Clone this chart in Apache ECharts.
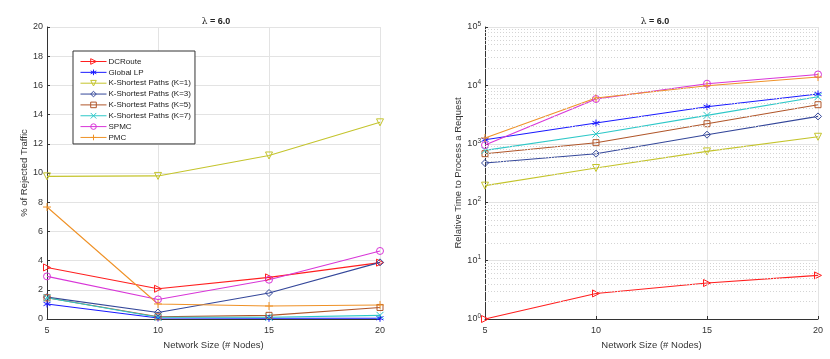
<!DOCTYPE html>
<html>
<head>
<meta charset="utf-8">
<script src="https://cdn.jsdelivr.net/npm/echarts@6/dist/echarts.min.js"></script>
<style>
  html, body { margin: 0; padding: 0; background: #fff; }
  #chart { width: 830px; height: 359px; }
</style>
</head>
<body>
<div id="chart"></div>
<script>
// network sizes (x axis)
var sizes = [5, 10, 15, 20];
var names = ['DCRoute', 'Global LP', 'K-Shortest Paths (K=1)', 'K-Shortest Paths (K=3)',
  'K-Shortest Paths (K=5)', 'K-Shortest Paths (K=7)', 'SPMC', 'PMC'];

// % of rejected traffic (left plot)
var rejDCRoute = [3.53, 2.07, 2.85, 3.86];
var rejGlobalLP = [1.03, 0.07, 0.05, 0.05];
var rejK1 = [9.77, 9.8, 11.2, 13.47];
var rejK3 = [1.5, 0.45, 1.78, 3.88];
var rejK5 = [1.45, 0.15, 0.25, 0.79];
var rejK7 = [1.45, 0.12, 0.12, 0.25];
var rejSPMC = [2.92, 1.34, 2.69, 4.66];
var rejPMC = [7.67, 1.03, 0.89, 0.96];

// relative time to process a request (right plot, log)
var timeDCRoute = [1, 2.74, 4.13, 5.58];
var timeGlobalLP = [1175, 2270, 4316, 7130];
var timeK1 = [192, 385, 741, 1320];
var timeK3 = [469, 677, 1432, 2944];
var timeK5 = [677, 1045, 2208, 4670];
var timeK7 = [771, 1472, 3063, 6400];
var timeSPMC = [953, 5850, 10700, 15400];
var timePMC = [1257, 6080, 9890, 13900];

var rejData = [rejDCRoute, rejGlobalLP, rejK1, rejK3, rejK5, rejK7, rejSPMC, rejPMC];
var timeData = [timeDCRoute, timeGlobalLP, timeK1, timeK3, timeK5, timeK7, timeSPMC, timePMC];

var colors = ['#ff1f1f', '#1a1aff', '#c4c42c', '#34479a', '#b0562a', '#2ec8c8', '#d836d8', '#ef9228'];
var symbols = ['triangle', 'path://M5,0L5,10M0.7,2.5L9.3,7.5M0.7,7.5L9.3,2.5', 'triangle', 'diamond', 'rect',
  'path://M0,0L10,10M0,10L10,0', 'circle', 'path://M5,0L5,10M0,5L10,5'];
var rotates = [-90, 0, 180, 0, 0, 0, 0, 0];
var sizesSym = [7, 7, 7, 7, 6, 7, 7, 8];

// minor grid lines of the log axis
var minorTicks = [];
for (var d = 0; d < 5; d++) {
  for (var m = 2; m < 10; m++) minorTicks.push(m * Math.pow(10, d));
}

var font = 'Liberation Sans';
var axisTxt = { color: '#333', fontSize: 9, fontFamily: font };

function makeSeries(name, i, data, idx) {
  return {
    name: name,
    type: 'line',
    xAxisIndex: idx,
    yAxisIndex: idx,
    data: sizes.map(function (x, k) { return [x, data[k]]; }),
    symbol: symbols[i],
    symbolSize: sizesSym[i],
    symbolRotate: rotates[i],
    lineStyle: { color: colors[i], width: 1.1 },
    itemStyle: { color: 'transparent', borderColor: colors[i], borderWidth: 1 },
    emphasis: { disabled: true },
    animation: false
  };
}

var series = [{
  type: 'line',
  xAxisIndex: 1,
  yAxisIndex: 1,
  data: [],
  silent: true,
  markLine: {
    silent: true,
    symbol: ['none', 'none'],
    label: { show: false },
    lineStyle: { type: [1, 2], color: '#d4d4d4', width: 1 },
    data: minorTicks.map(function (v) { return { yAxis: v }; })
  },
  animation: false
}];
names.forEach(function (n, i) {
  series.push(makeSeries(n, i, rejData[i], 0));
});
names.forEach(function (n, i) {
  series.push(makeSeries(n, i, timeData[i], 1));
});

function xAxisCfg(idx) {
  return {
    type: 'value',
    gridIndex: idx,
    min: 5, max: 20, interval: 5,
    name: 'Network Size (# Nodes)',
    nameLocation: 'middle',
    nameGap: 17,
    nameTextStyle: { color: '#333', fontSize: 9.5, fontFamily: font },
    axisLine: { lineStyle: { color: '#333', width: 1 } },
    axisTick: { inside: true, length: 3, lineStyle: { color: '#333' } },
    axisLabel: Object.assign({ margin: 7 }, axisTxt),
    splitLine: { lineStyle: { color: '#e3e3e3', width: 1 } }
  };
}

var titleStyle = {
  fontSize: 9, fontWeight: 'bold', color: '#222', fontFamily: font,
  rich: { l: { fontSize: 9, fontWeight: 'normal', fontFamily: 'DejaVu Serif', color: '#222' } }
};

var option = {
  backgroundColor: '#fff',
  textStyle: { fontFamily: font },
  title: [
    { text: '{l|λ} = 6.0', left: 211, top: 12, textAlign: 'center', textStyle: titleStyle },
    { text: '{l|λ} = 6.0', left: 650, top: 12, textAlign: 'center', textStyle: titleStyle }
  ],
  legend: {
    data: names.map(function (n, i) {
      return {
        name: n,
        itemStyle: { color: 'transparent', borderColor: colors[i], borderWidth: 1 },
        lineStyle: { color: colors[i], width: 1 }
      };
    }),
    orient: 'vertical',
    left: 73,
    top: 51,
    itemWidth: 26,
    itemHeight: 7,
    itemGap: 1.85,
    padding: [6, 4, 2, 7],
    backgroundColor: '#fff',
    borderColor: '#333',
    borderWidth: 1,
    textStyle: { fontSize: 8, lineHeight: 9, color: '#222', fontFamily: font, padding: [0, 0, 0, -3] },
    selectedMode: false
  },
  grid: [
    { left: 47, right: 450, top: 27, bottom: 40 },
    { left: 485, right: 12, top: 27, bottom: 40 }
  ],
  xAxis: [xAxisCfg(0), xAxisCfg(1)],
  yAxis: [
    {
      type: 'value',
      gridIndex: 0,
      min: 0, max: 20, interval: 2,
      name: '% of Rejected Traffic',
      nameLocation: 'middle',
      nameGap: 13,
      nameTextStyle: { color: '#333', fontSize: 9.5, fontFamily: font },
      axisLine: { show: true, lineStyle: { color: '#333', width: 1 } },
      axisTick: { show: true, inside: true, length: 3, lineStyle: { color: '#333' } },
      axisLabel: Object.assign({ margin: 4 }, axisTxt),
      splitLine: { lineStyle: { color: '#e3e3e3', width: 1 } }
    },
    {
      type: 'log',
      gridIndex: 1,
      logBase: 10,
      min: 1, max: 100000,
      name: 'Relative Time to Process a Request',
      nameLocation: 'middle',
      nameGap: 20,
      nameTextStyle: { color: '#333', fontSize: 9.5, fontFamily: font },
      axisLine: { show: true, lineStyle: { color: '#333', width: 1 } },
      axisTick: { show: true, inside: true, length: 3, lineStyle: { color: '#333' } },
      axisLabel: {
        margin: 4,
        color: '#333',
        fontSize: 9,
        fontFamily: font,
        formatter: function (v) {
          return '{b|10}{s|' + Math.round(Math.log10(v)) + '}';
        },
        rich: {
          b: { fontSize: 9, color: '#333', fontFamily: font },
          s: { fontSize: 6.5, color: '#333', fontFamily: font, padding: [0, 0, 6, 0] }
        }
      },
      splitLine: { lineStyle: { color: '#e3e3e3', width: 1 } }
    }
  ],
  series: series
};

var chart = echarts.init(document.getElementById('chart'));
chart.setOption(option);
</script>
</body>
</html>
